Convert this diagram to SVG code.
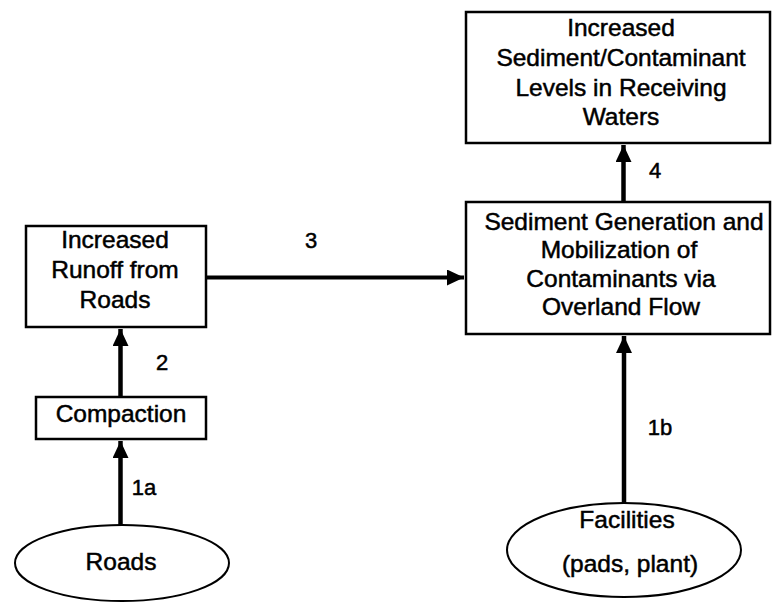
<svg xmlns="http://www.w3.org/2000/svg" width="772" height="604" viewBox="0 0 772 604">
<defs>
<style>
.box{fill:#fff;stroke:#000;stroke-width:2.5}
.ell{fill:#fff;stroke:#000;stroke-width:2}
.t{font-family:"Liberation Sans",Arial,sans-serif;font-size:24.5px;fill:#000;stroke:#000;stroke-width:0.5;text-anchor:middle}
.lbl{font-family:"Liberation Sans",Arial,sans-serif;font-size:22px;fill:#000;stroke:#000;stroke-width:0.5;text-anchor:middle}
.ln{stroke:#000;fill:none}
</style>
<marker id="ah" markerUnits="userSpaceOnUse" markerWidth="18" markerHeight="16" viewBox="0 0 18 16" refX="17" refY="8" orient="auto">
<path d="M0,0 L17,8 L0,16 Z" fill="#000"/>
</marker>
</defs>
<rect width="772" height="604" fill="#fff"/>
<g id="connectors">
<line class="ln" x1="120.5" y1="525" x2="120.5" y2="441" stroke-width="4.5" marker-end="url(#ah)"/>
<line class="ln" x1="120.5" y1="396" x2="120.5" y2="329" stroke-width="4.5" marker-end="url(#ah)"/>
<line class="ln" x1="206" y1="277.5" x2="464" y2="277.5" stroke-width="4" marker-end="url(#ah)"/>
<line class="ln" x1="623.5" y1="202" x2="623.5" y2="145" stroke-width="4.5" marker-end="url(#ah)"/>
<line class="ln" x1="624" y1="503" x2="624" y2="336" stroke-width="4.5" marker-end="url(#ah)"/>
<text class="lbl" x="162" y="370">2</text>
<text class="lbl" x="144" y="495">1a</text>
<text class="lbl" x="311" y="248">3</text>
<text class="lbl" x="655" y="178">4</text>
<text class="lbl" x="660" y="435">1b</text>
</g>
<g id="runoff">
<rect class="box" x="26" y="226" width="180" height="101"/>
<text class="t" x="115" y="248">Increased</text>
<text class="t" x="115" y="278">Runoff from</text>
<text class="t" x="115" y="308">Roads</text>
</g>
<g id="compaction">
<rect class="box" x="36" y="397" width="170" height="42"/>
<text class="t" x="121" y="422">Compaction</text>
</g>
<g id="roads">
<ellipse class="ell" cx="122" cy="563" rx="107" ry="38"/>
<text class="t" x="121" y="570">Roads</text>
</g>
<g id="receiving">
<rect class="box" x="466" y="12" width="304" height="131"/>
<text class="t" x="621" y="36">Increased</text>
<text class="t" x="621" y="66">Sediment/Contaminant</text>
<text class="t" x="621" y="96">Levels in Receiving</text>
<text class="t" x="621" y="125">Waters</text>
</g>
<g id="sediment">
<rect class="box" x="466" y="202" width="304" height="132"/>
<text class="t" x="624" y="230">Sediment Generation and</text>
<text class="t" x="619" y="258">Mobilization of</text>
<text class="t" x="621" y="287">Contaminants via</text>
<text class="t" x="621" y="315">Overland Flow</text>
</g>
<g id="facilities">
<ellipse class="ell" cx="624" cy="550" rx="117" ry="47"/>
<text class="t" x="627" y="528">Facilities</text>
<text class="t" x="630" y="572">(pads, plant)</text>
</g>
</svg>
